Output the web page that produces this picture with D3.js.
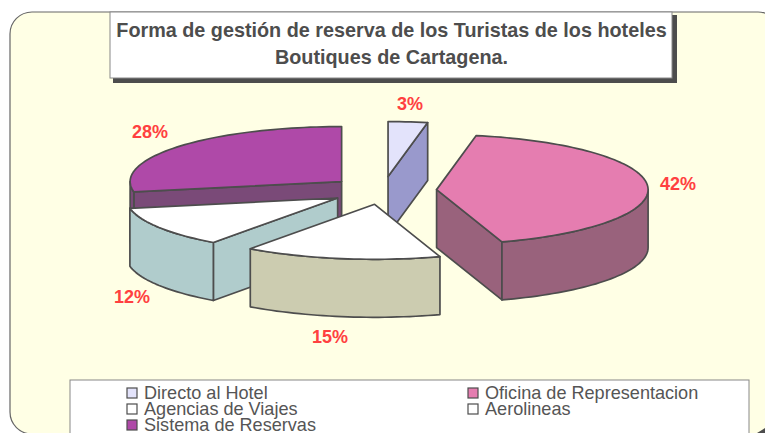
<!DOCTYPE html>
<html>
<head>
<meta charset="utf-8">
<script src="https://cdn.jsdelivr.net/npm/d3@7"></script>
<style>
html, body { margin: 0; padding: 0; background: #fff; overflow: hidden; }
text { font-family: "Liberation Sans", Arial, sans-serif; }
</style>
</head>
<body>
<div id="chart"></div>
<script>
const titleLines = ["Forma de gestión de reserva de los Turistas de los hoteles", "Boutiques de Cartagena."];
const categories = ["Directo al Hotel", "Oficina de Representacion", "Agencias de Viajes", "Aerolineas", "Sistema de Reservas"];
const values = [3, 42, 15, 12, 28];
const topColors = ["#e3e3fb", "#e57db0", "#ffffff", "#ffffff", "#af49a8"];
const sideColors = ["#9999cc", "#99627c", "#ccccb0", "#b0cccc", "#7a4a78"];

const width = 765, height = 433;
const cx = 383, cy = 190.5, rx = 211.5, ry = 55, depth = 58, explode = 53.7;
const ink = "#4d4d4d";

const svg = d3.select("#chart").append("svg")
    .attr("width", width)
    .attr("height", height)
    .style("display", "block");

// Panel
svg.append("rect")
    .attr("x", 10).attr("y", 12)
    .attr("width", 770).attr("height", 422)
    .attr("rx", 22).attr("ry", 22)
    .attr("fill", "#ffffe5")
    .attr("stroke", "#666")
    .attr("stroke-width", 1.2);

// Bit of the panel's dark corner that shows at the bottom right
svg.append("path")
    .attr("d", "M765,428L765,433L757,433Z")
    .attr("fill", ink);

// Title box with its shadow
svg.append("rect").attr("x", 113).attr("y", 15).attr("width", 564).attr("height", 68).attr("fill", ink);
svg.append("rect").attr("x", 110).attr("y", 12).attr("width", 562).attr("height", 66)
    .attr("fill", "#fff").attr("stroke", "#888").attr("stroke-width", 1);

svg.append("g").selectAll("text")
    .data(titleLines)
    .enter()
    .append("text")
    .attr("x", 391.5)
    .attr("y", (d, i) => 36.7 + i * 27)
    .attr("text-anchor", "middle")
    .attr("font-size", 19.8)
    .attr("font-weight", "bold")
    .attr("fill", ink)
    .text(d => d);

// Pie angles, clockwise from twelve o'clock
const arcs = d3.pie().sort(null).startAngle(0).endAngle(2 * Math.PI)(values);

const xScale = d3.scaleLinear().domain([-1, 1]).range([cx - rx, cx + rx]);
const yScale = d3.scaleLinear().domain([-1, 1]).range([cy + ry, cy - ry]);

function project(angle, radius, slice, drop) {
    const mid = (slice.startAngle + slice.endAngle) / 2;
    const ex = explode / rx;
    return [
        xScale(radius * Math.sin(angle) + ex * Math.sin(mid)),
        yScale(radius * Math.cos(angle) + ex * Math.cos(mid)) + drop
    ];
}

function arcPoints(a0, a1, slice, drop) {
    const n = Math.max(2, Math.ceil(Math.abs(a1 - a0) / 0.03));
    return d3.range(n + 1).map(i => project(a0 + (a1 - a0) * i / n, 1, slice, drop));
}

const line = d3.line();

function face(g, points, fill) {
    g.append("path")
        .attr("d", line(points) + "Z")
        .attr("fill", fill)
        .attr("stroke", ink)
        .attr("stroke-width", 1.7)
        .attr("stroke-linejoin", "round");
}

// Painter's order, back slices first
const drawOrder = [4, 0, 1, 3, 2];

drawOrder.forEach(k => {
    const s = arcs[k];
    const g = svg.append("g");
    const side = sideColors[k];

    // cut faces turned towards the viewer
    [[s.startAngle, Math.sin(s.startAngle) < -1e-6], [s.endAngle, Math.sin(s.endAngle) > 1e-6]]
        .filter(d => d[1])
        .forEach(d => {
            face(g, [
                project(0, 0, s, 0), project(d[0], 1, s, 0),
                project(d[0], 1, s, depth), project(0, 0, s, depth)
            ], side);
        });

    // outer wall, front half only
    const a0 = Math.max(s.startAngle, Math.PI / 2);
    const a1 = Math.min(s.endAngle, 3 * Math.PI / 2);
    if (a1 > a0) {
        face(g, arcPoints(a0, a1, s, 0).concat(arcPoints(a1, a0, s, depth)), side);
    }

    // top
    face(g, [project(0, 0, s, 0)].concat(arcPoints(s.startAngle, s.endAngle, s, 0)), topColors[k]);
});

// Percent labels
const labelX = [410, 678, 330, 132, 150];
const labelY = [110, 190, 343, 303, 138];

svg.append("g").selectAll("text")
    .data(values)
    .enter()
    .append("text")
    .attr("x", (d, i) => labelX[i])
    .attr("y", (d, i) => labelY[i])
    .attr("text-anchor", "middle")
    .attr("font-size", 18)
    .attr("font-weight", "bold")
    .attr("fill", "#ff4040")
    .text(d => d + "%");

// Legend
svg.append("rect")
    .attr("x", 70).attr("y", 380)
    .attr("width", 679).attr("height", 70)
    .attr("fill", "#fff")
    .attr("stroke", "#888")
    .attr("stroke-width", 1);

const legendX = [127, 468];
const legend = svg.append("g").selectAll("g")
    .data(categories)
    .enter()
    .append("g")
    .attr("transform", (d, i) => `translate(${legendX[i % 2]},${393 + Math.floor(i / 2) * 16})`);

legend.append("rect")
    .attr("x", 0).attr("y", -5)
    .attr("width", 10).attr("height", 10)
    .attr("fill", (d, i) => topColors[i])
    .attr("stroke", ink)
    .attr("stroke-width", 1.2);

legend.append("text")
    .attr("x", 17)
    .attr("y", 5.5)
    .attr("font-size", 18.1)
    .attr("fill", "#555")
    .text(d => d);
</script>
</body>
</html>
